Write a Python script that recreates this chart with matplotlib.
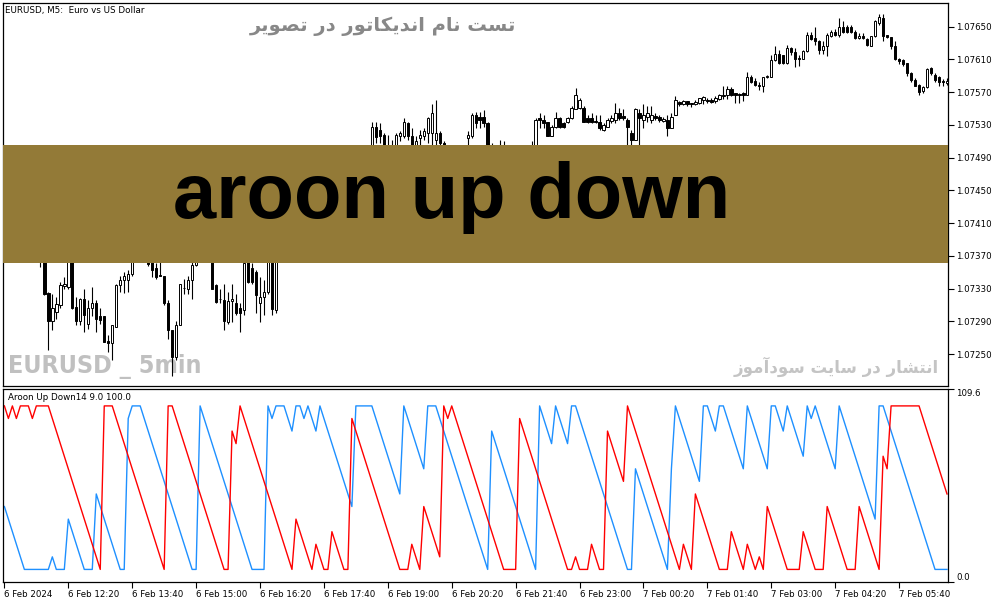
import matplotlib
matplotlib.use('Agg')
import matplotlib.pyplot as plt
from matplotlib.patches import Rectangle

W, H = 1003, 603

# EURUSD M5 candles, 6 Feb 2024 11:00 -> 7 Feb 2024 06:40
opens = [
    1.07455, 1.07444, 1.07448, 1.07432, 1.07436, 1.07418, 1.07405, 1.07396, 1.07400, 1.07380,
    1.07372, 1.07325, 1.07291, 1.07302, 1.07310, 1.07333, 1.07332, 1.07365, 1.07307, 1.07291,
    1.07317, 1.07287, 1.07306, 1.07312, 1.07296, 1.07296, 1.07266, 1.07263, 1.07283, 1.07335,
    1.07341, 1.07340, 1.07348, 1.07375, 1.07395, 1.07405, 1.07385, 1.07362, 1.07355, 1.07347,
    1.07346, 1.07312, 1.07279, 1.07247, 1.07285, 1.07331, 1.07330, 1.07340, 1.07359, 1.07395,
    1.07430, 1.07405, 1.07390, 1.07334, 1.07317, 1.07316, 1.07289, 1.07315, 1.07312, 1.07306,
    1.07304, 1.07365, 1.07355, 1.07350, 1.07312, 1.07320, 1.07326, 1.07375, 1.07304, 1.07400,
    1.07452, 1.07440, 1.07420, 1.07425, 1.07466, 1.07470, 1.07456, 1.07476, 1.07464, 1.07468,
    1.07478, 1.07455, 1.07465, 1.07450, 1.07440, 1.07430, 1.07410, 1.07415, 1.07465, 1.07482,
    1.07488, 1.07480, 1.07500, 1.07528, 1.07524, 1.07518, 1.07500, 1.07495, 1.07490, 1.07516,
    1.07516, 1.07532, 1.07516, 1.07505, 1.07514, 1.07516, 1.07520, 1.07520, 1.07512, 1.07520,
    1.07508, 1.07480, 1.07488, 1.07465, 1.07475, 1.07490, 1.07514, 1.07516, 1.07542, 1.07540,
    1.07540, 1.07532, 1.07495, 1.07490, 1.07478, 1.07495, 1.07480, 1.07470, 1.07465, 1.07455,
    1.07462, 1.07475, 1.07490, 1.07500, 1.07538, 1.07536, 1.07533, 1.07516, 1.07528, 1.07538,
    1.07532, 1.07534, 1.07538, 1.07549, 1.07551, 1.07551, 1.07538, 1.07538, 1.07535, 1.07534,
    1.07524, 1.07528, 1.07535, 1.07536, 1.07544, 1.07541, 1.07536, 1.07520, 1.07512, 1.07544,
    1.07536, 1.07540, 1.07536, 1.07541, 1.07540, 1.07535, 1.07536, 1.07526, 1.07542, 1.07558,
    1.07555, 1.07559, 1.07557, 1.07555, 1.07557, 1.07560, 1.07561, 1.07560, 1.07559, 1.07562,
    1.07565, 1.07567, 1.07574, 1.07569, 1.07568, 1.07569, 1.07567, 1.07589, 1.07584, 1.07579,
    1.07577, 1.07588, 1.07588, 1.07609, 1.07617, 1.07615, 1.07606, 1.07624, 1.07619, 1.07612,
    1.07610, 1.07620, 1.07640, 1.07636, 1.07632, 1.07622, 1.07627, 1.07639, 1.07643, 1.07640,
    1.07650, 1.07650, 1.07650, 1.07644, 1.07636, 1.07639, 1.07635, 1.07627, 1.07639, 1.07655,
    1.07661, 1.07640, 1.07637, 1.07626, 1.07610, 1.07609, 1.07606, 1.07593, 1.07585, 1.07579,
    1.07571, 1.07576, 1.07599, 1.07591, 1.07588, 1.07584, 1.07581]
highs = [
    1.07462, 1.07452, 1.07450, 1.07440, 1.07438, 1.07422, 1.07410, 1.07404, 1.07405, 1.07388,
    1.07378, 1.07326, 1.07324, 1.07320, 1.07338, 1.07344, 1.07372, 1.07370, 1.07320, 1.07318,
    1.07330, 1.07316, 1.07332, 1.07316, 1.07306, 1.07296, 1.07273, 1.07285, 1.07336, 1.07346,
    1.07350, 1.07353, 1.07385, 1.07400, 1.07420, 1.07412, 1.07395, 1.07370, 1.07361, 1.07365,
    1.07346, 1.07316, 1.07279, 1.07291, 1.07336, 1.07342, 1.07346, 1.07375, 1.07400, 1.07440,
    1.07435, 1.07412, 1.07395, 1.07336, 1.07330, 1.07336, 1.07326, 1.07336, 1.07324, 1.07312,
    1.07368, 1.07372, 1.07361, 1.07353, 1.07344, 1.07340, 1.07448, 1.07420, 1.07455, 1.07460,
    1.07466, 1.07448, 1.07432, 1.07472, 1.07476, 1.07474, 1.07480, 1.07478, 1.07472, 1.07484,
    1.07482, 1.07470, 1.07475, 1.07462, 1.07455, 1.07445, 1.07420, 1.07470, 1.07488, 1.07494,
    1.07499, 1.07503, 1.07534, 1.07534, 1.07532, 1.07520, 1.07518, 1.07512, 1.07520, 1.07522,
    1.07538, 1.07534, 1.07526, 1.07516, 1.07524, 1.07526, 1.07540, 1.07556, 1.07560, 1.07522,
    1.07510, 1.07495, 1.07492, 1.07480, 1.07495, 1.07502, 1.07522, 1.07544, 1.07546, 1.07546,
    1.07548, 1.07534, 1.07508, 1.07500, 1.07512, 1.07510, 1.07490, 1.07480, 1.07472, 1.07470,
    1.07480, 1.07495, 1.07510, 1.07538, 1.07544, 1.07542, 1.07534, 1.07530, 1.07546, 1.07540,
    1.07534, 1.07540, 1.07553, 1.07575, 1.07563, 1.07553, 1.07542, 1.07544, 1.07542, 1.07542,
    1.07532, 1.07538, 1.07542, 1.07557, 1.07551, 1.07549, 1.07538, 1.07524, 1.07551, 1.07549,
    1.07555, 1.07553, 1.07553, 1.07544, 1.07542, 1.07540, 1.07542, 1.07544, 1.07565, 1.07559,
    1.07560, 1.07559, 1.07557, 1.07560, 1.07563, 1.07565, 1.07563, 1.07563, 1.07565, 1.07568,
    1.07577, 1.07578, 1.07576, 1.07569, 1.07569, 1.07570, 1.07595, 1.07591, 1.07587, 1.07583,
    1.07588, 1.07591, 1.07616, 1.07626, 1.07622, 1.07616, 1.07628, 1.07625, 1.07624, 1.07616,
    1.07622, 1.07644, 1.07644, 1.07650, 1.07634, 1.07632, 1.07642, 1.07646, 1.07647, 1.07661,
    1.07657, 1.07652, 1.07652, 1.07646, 1.07642, 1.07642, 1.07636, 1.07639, 1.07658, 1.07666,
    1.07666, 1.07640, 1.07638, 1.07632, 1.07612, 1.07610, 1.07606, 1.07595, 1.07587, 1.07580,
    1.07578, 1.07599, 1.07601, 1.07593, 1.07590, 1.07586, 1.07587]
lows = [
    1.07440, 1.07441, 1.07428, 1.07430, 1.07415, 1.07402, 1.07392, 1.07393, 1.07375, 1.07357,
    1.07322, 1.07255, 1.07279, 1.07293, 1.07306, 1.07330, 1.07330, 1.07305, 1.07285, 1.07285,
    1.07277, 1.07281, 1.07296, 1.07277, 1.07287, 1.07265, 1.07253, 1.07243, 1.07283, 1.07326,
    1.07325, 1.07326, 1.07346, 1.07370, 1.07385, 1.07378, 1.07358, 1.07344, 1.07342, 1.07345,
    1.07310, 1.07269, 1.07223, 1.07243, 1.07285, 1.07324, 1.07324, 1.07317, 1.07358, 1.07390,
    1.07400, 1.07385, 1.07329, 1.07312, 1.07312, 1.07279, 1.07287, 1.07289, 1.07298, 1.07277,
    1.07298, 1.07337, 1.07336, 1.07300, 1.07289, 1.07298, 1.07324, 1.07298, 1.07300, 1.07392,
    1.07430, 1.07415, 1.07395, 1.07420, 1.07455, 1.07450, 1.07452, 1.07460, 1.07455, 1.07462,
    1.07450, 1.07440, 1.07445, 1.07432, 1.07425, 1.07405, 1.07385, 1.07410, 1.07460, 1.07470,
    1.07475, 1.07478, 1.07495, 1.07508, 1.07508, 1.07490, 1.07485, 1.07480, 1.07485, 1.07510,
    1.07514, 1.07512, 1.07500, 1.07495, 1.07500, 1.07512, 1.07508, 1.07506, 1.07506, 1.07490,
    1.07465, 1.07470, 1.07455, 1.07460, 1.07470, 1.07480, 1.07494, 1.07514, 1.07526, 1.07526,
    1.07528, 1.07490, 1.07480, 1.07470, 1.07475, 1.07472, 1.07462, 1.07458, 1.07445, 1.07450,
    1.07455, 1.07470, 1.07485, 1.07495, 1.07526, 1.07526, 1.07516, 1.07516, 1.07526, 1.07526,
    1.07526, 1.07532, 1.07537, 1.07549, 1.07549, 1.07533, 1.07532, 1.07532, 1.07532, 1.07524,
    1.07522, 1.07527, 1.07532, 1.07532, 1.07536, 1.07536, 1.07490, 1.07495, 1.07512, 1.07500,
    1.07526, 1.07534, 1.07532, 1.07536, 1.07534, 1.07534, 1.07516, 1.07526, 1.07542, 1.07553,
    1.07554, 1.07553, 1.07552, 1.07554, 1.07556, 1.07556, 1.07557, 1.07557, 1.07557, 1.07561,
    1.07562, 1.07562, 1.07565, 1.07557, 1.07557, 1.07559, 1.07567, 1.07581, 1.07578, 1.07573,
    1.07570, 1.07587, 1.07588, 1.07608, 1.07605, 1.07605, 1.07605, 1.07616, 1.07601, 1.07602,
    1.07610, 1.07619, 1.07634, 1.07628, 1.07617, 1.07617, 1.07614, 1.07637, 1.07639, 1.07638,
    1.07642, 1.07642, 1.07642, 1.07635, 1.07635, 1.07635, 1.07627, 1.07627, 1.07637, 1.07652,
    1.07632, 1.07636, 1.07623, 1.07609, 1.07605, 1.07602, 1.07590, 1.07583, 1.07577, 1.07567,
    1.07569, 1.07575, 1.07591, 1.07583, 1.07578, 1.07577, 1.07579]
closes = [
    1.07444, 1.07448, 1.07432, 1.07436, 1.07418, 1.07405, 1.07396, 1.07400, 1.07380, 1.07372,
    1.07324, 1.07291, 1.07306, 1.07311, 1.07334, 1.07336, 1.07365, 1.07306, 1.07291, 1.07317,
    1.07298, 1.07306, 1.07313, 1.07293, 1.07292, 1.07265, 1.07263, 1.07285, 1.07335, 1.07341,
    1.07346, 1.07348, 1.07375, 1.07395, 1.07405, 1.07385, 1.07360, 1.07353, 1.07344, 1.07346,
    1.07312, 1.07279, 1.07247, 1.07285, 1.07336, 1.07331, 1.07340, 1.07359, 1.07395, 1.07430,
    1.07405, 1.07390, 1.07330, 1.07314, 1.07317, 1.07291, 1.07315, 1.07317, 1.07300, 1.07300,
    1.07361, 1.07338, 1.07338, 1.07322, 1.07320, 1.07326, 1.07375, 1.07305, 1.07400, 1.07452,
    1.07440, 1.07420, 1.07425, 1.07466, 1.07470, 1.07456, 1.07476, 1.07464, 1.07468, 1.07478,
    1.07455, 1.07465, 1.07450, 1.07440, 1.07430, 1.07410, 1.07415, 1.07465, 1.07482, 1.07488,
    1.07480, 1.07500, 1.07528, 1.07515, 1.07516, 1.07500, 1.07495, 1.07490, 1.07518, 1.07520,
    1.07534, 1.07516, 1.07505, 1.07510, 1.07518, 1.07522, 1.07538, 1.07545, 1.07520, 1.07508,
    1.07480, 1.07488, 1.07465, 1.07475, 1.07490, 1.07498, 1.07518, 1.07542, 1.07532, 1.07536,
    1.07532, 1.07495, 1.07490, 1.07478, 1.07495, 1.07480, 1.07470, 1.07465, 1.07455, 1.07462,
    1.07475, 1.07490, 1.07500, 1.07536, 1.07536, 1.07532, 1.07516, 1.07528, 1.07538, 1.07528,
    1.07528, 1.07538, 1.07551, 1.07567, 1.07561, 1.07534, 1.07534, 1.07534, 1.07533, 1.07526,
    1.07530, 1.07536, 1.07538, 1.07544, 1.07538, 1.07538, 1.07528, 1.07512, 1.07549, 1.07538,
    1.07542, 1.07544, 1.07542, 1.07538, 1.07536, 1.07537, 1.07526, 1.07540, 1.07561, 1.07555,
    1.07559, 1.07556, 1.07555, 1.07558, 1.07563, 1.07564, 1.07559, 1.07558, 1.07563, 1.07567,
    1.07567, 1.07574, 1.07567, 1.07567, 1.07567, 1.07567, 1.07588, 1.07583, 1.07579, 1.07577,
    1.07588, 1.07590, 1.07609, 1.07617, 1.07606, 1.07606, 1.07624, 1.07619, 1.07610, 1.07610,
    1.07620, 1.07640, 1.07635, 1.07632, 1.07622, 1.07627, 1.07640, 1.07643, 1.07640, 1.07650,
    1.07644, 1.07644, 1.07644, 1.07636, 1.07639, 1.07636, 1.07628, 1.07639, 1.07657, 1.07662,
    1.07639, 1.07637, 1.07626, 1.07610, 1.07608, 1.07604, 1.07593, 1.07585, 1.07578, 1.07570,
    1.07576, 1.07598, 1.07593, 1.07585, 1.07583, 1.07582, 1.07584]

# Aroon(14): bars since highest high (up, blue) / lowest low (down, red)
since_high = [
    8, 9, 10, 11, 12, 13, 13, 13, 13, 13,
    13, 13, 12, 13, 13, 13, 9, 10, 11, 12,
    13, 13, 13, 7, 8, 9, 10, 11, 12, 13,
    13, 1, 0, 0, 0, 1, 2, 3, 4, 5,
    6, 7, 8, 9, 10, 11, 12, 13, 13, 0,
    1, 2, 3, 4, 5, 6, 7, 8, 9, 10,
    11, 12, 13, 13, 13, 13, 0, 1, 0, 0,
    0, 1, 2, 0, 0, 1, 0, 1, 2, 0,
    1, 2, 3, 4, 5, 6, 7, 8, 0, 0,
    0, 0, 0, 1, 2, 3, 4, 5, 6, 7,
    0, 1, 2, 3, 4, 5, 0, 0, 0, 1,
    2, 3, 4, 5, 6, 7, 8, 9, 10, 11,
    12, 13, 2, 3, 4, 5, 6, 7, 8, 9,
    10, 11, 12, 13, 0, 1, 2, 3, 0, 1,
    2, 3, 0, 0, 1, 2, 3, 4, 5, 6,
    7, 8, 9, 10, 11, 12, 13, 13, 5, 6,
    7, 8, 9, 10, 11, 12, 13, 5, 0, 1,
    2, 3, 4, 5, 6, 0, 0, 1, 2, 0,
    0, 1, 2, 3, 4, 5, 0, 1, 2, 3,
    4, 5, 0, 0, 1, 2, 0, 1, 2, 3,
    4, 0, 1, 0, 1, 2, 3, 4, 5, 0,
    1, 2, 3, 4, 5, 6, 7, 8, 9, 0,
    0, 1, 2, 3, 4, 5, 6, 7, 8, 9,
    10, 11, 12, 13, 13, 13, 13]
since_low = [
    0, 1, 0, 1, 0, 0, 0, 1, 0, 0,
    0, 0, 1, 2, 3, 4, 5, 6, 7, 8,
    9, 10, 11, 12, 13, 0, 0, 0, 1, 2,
    3, 4, 5, 6, 7, 8, 9, 10, 11, 12,
    13, 0, 0, 1, 2, 3, 4, 5, 6, 7,
    8, 9, 10, 11, 12, 13, 13, 2, 3, 0,
    1, 2, 3, 4, 5, 6, 7, 8, 9, 10,
    11, 12, 13, 9, 10, 11, 12, 13, 11, 12,
    13, 13, 10, 11, 12, 13, 13, 1, 2, 3,
    4, 5, 6, 7, 8, 9, 10, 11, 12, 13,
    13, 13, 11, 12, 13, 8, 9, 10, 11, 12,
    0, 1, 0, 1, 2, 3, 4, 5, 6, 7,
    8, 9, 10, 11, 12, 13, 13, 13, 13, 1,
    2, 3, 4, 5, 6, 7, 8, 9, 10, 11,
    12, 13, 13, 12, 13, 13, 13, 11, 12, 13,
    13, 2, 3, 4, 5, 6, 0, 1, 2, 3,
    4, 5, 6, 7, 8, 9, 10, 11, 12, 13,
    11, 12, 13, 7, 8, 9, 10, 11, 12, 13,
    13, 13, 10, 11, 12, 13, 11, 12, 13, 12,
    13, 8, 9, 10, 11, 12, 13, 13, 13, 13,
    10, 11, 12, 13, 13, 13, 8, 9, 10, 11,
    12, 13, 13, 13, 8, 9, 10, 11, 12, 13,
    4, 5, 0, 0, 0, 0, 0, 0, 0, 0,
    1, 2, 3, 4, 5, 6, 7]
aroon_period = 14

time_labels = ['6 Feb 2024', '6 Feb 12:20', '6 Feb 13:40', '6 Feb 15:00', '6 Feb 16:20',
               '6 Feb 17:40', '6 Feb 19:00', '6 Feb 20:20', '6 Feb 21:40', '6 Feb 23:00',
               '7 Feb 00:20', '7 Feb 01:40', '7 Feb 03:00', '7 Feb 04:20', '7 Feb 05:40']
price_ticks = [1.07250, 1.07290, 1.07330, 1.07370, 1.07410, 1.07450,
               1.07490, 1.07530, 1.07570, 1.07610, 1.07650]

# persian captions, written in visual order with presentation forms
title_fa = ('\uFEAE\uFBFE\uFEEE\uFEBC\uFE97 \uFEAD\uFEA9 '
            '\uFEAD\uFEEE\uFE97\uFE8E\uFB91\uFBFE\uFEAA\uFEE7\uFE8D '
            '\uFEE1\uFE8E\uFEE7 \uFE96\uFEB4\uFE97')
footer_fa = ('\uFEAF\uFEEE\uFEE3\uFE81\uFEA9\uFEEE\uFEB3 \uFE96\uFBFE\uFE8E\uFEB3 '
             '\uFEAD\uFEA9 \uFEAD\uFE8E\uFEB8\uFE98\uFEE7\uFE8D')


def fx(px):
    return px / W


def fy(py):
    return 1 - py / H


fig = plt.figure(figsize=(W / 100, H / 100), dpi=100)
ax = fig.add_axes([fx(3), fy(386), (948 - 3) / W, (386 - 3) / H])
ind = fig.add_axes([fx(3), fy(582), (948 - 3) / W, (582 - 389) / H])

x = list(range(len(closes)))

# candles
ax.vlines(x, lows, highs, colors='black', linewidth=0.8, zorder=2)
bottoms = [min(o, c) for o, c in zip(opens, closes)]
heights = [abs(c - o) for o, c in zip(opens, closes)]
faces = ['white' if c >= o else 'black' for o, c in zip(opens, closes)]
ax.bar(x, heights, bottom=bottoms, width=0.6, color=faces, edgecolor='black',
       linewidth=0.7, zorder=3)

ax.set_xlim(-0.35, 236.25)
ax.set_ylim(1.07211, 1.07679)
ax.yaxis.tick_right()
ax.set_yticks(price_ticks)
ax.set_yticklabels(['%.5f' % p for p in price_ticks])
ax.set_xticks([])
ax.tick_params(axis='y', direction='out', length=4, width=0.8, pad=2, labelsize=6.2)

# watermark texts behind candles
ax.text(5 / 945, 1 - (373 - 3) / 383, 'EURUSD _ 5min', transform=ax.transAxes,
        family=['DejaVu Sans'], stretch='condensed', weight='bold', fontsize=18,
        color='#c0c0c0', ha='left', va='baseline', zorder=1)
fig.text(fx(836), fy(367), footer_fa, family='DejaVu Sans', weight='bold', fontsize=12,
         color='#c4c4c4', ha='center', va='center')
fig.text(fx(383), fy(26), title_fa, family='DejaVu Sans', weight='bold', fontsize=14,
         color='#888888', ha='center', va='center')
fig.text(fx(5), fy(10), 'EURUSD, M5:  Euro vs US Dollar', fontsize=6.3, ha='left',
         va='center')

# banner
ax.add_patch(Rectangle((0, (386 - 263) / 383), 1, (263 - 145) / 383, transform=ax.transAxes,
                       facecolor='#937a37', edgecolor='none', zorder=10))
fig.text(fx(452), fy(218), 'aroon up down', family='Liberation Sans', weight='bold',
         stretch='normal', fontsize=56, color='black', ha='center', va='baseline', zorder=11)

# aroon indicator
aroon_up = [100.0 * (aroon_period - n) / aroon_period for n in since_high]
aroon_down = [100.0 * (aroon_period - n) / aroon_period for n in since_low]
ind.plot(x, aroon_up, color='#1e90ff', linewidth=1.0)
ind.plot(x, aroon_down, color='#ff0000', linewidth=1.0)
ind.set_xlim(-0.35, 236.25)
ind.set_ylim(0, 109.6)
ind.yaxis.tick_right()
ind.set_yticks([0.0, 109.6])
ind.set_yticklabels(['0.0', '109.6'])
labs = ind.get_yticklabels()
labs[0].set_va('bottom')
labs[1].set_va('top')
ind.set_xticks(list(range(0, 16 * len(time_labels), 16)))
ind.set_xticklabels(time_labels, ha='left')
ind.tick_params(axis='both', direction='out', length=4, width=0.8, pad=2, labelsize=6.2)
ind.text(0.005, 0.955, 'Aroon Up Down14 9.0 100.0', transform=ind.transAxes, fontsize=6.3,
         ha='left', va='center')

for a in (ax, ind):
    for s in a.spines.values():
        s.set_linewidth(0.9)
        s.set_color('black')

fig.savefig('out.png', dpi=100)
